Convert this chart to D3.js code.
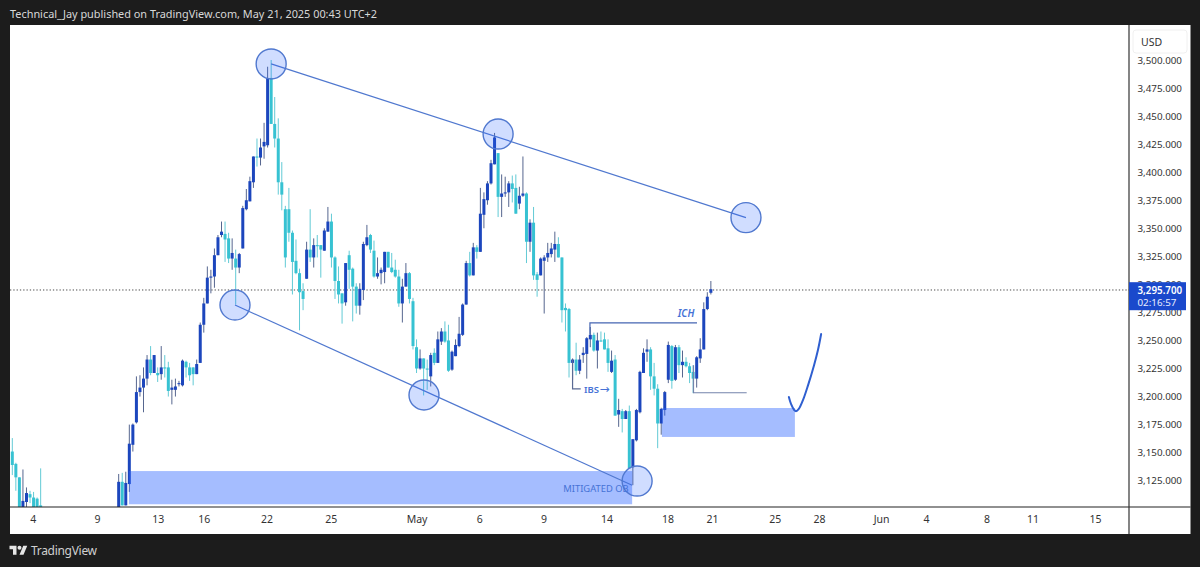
<!DOCTYPE html>
<html><head><meta charset="utf-8">
<script src="https://cdnjs.cloudflare.com/ajax/libs/d3/7.8.5/d3.min.js"></script>
<style>html,body{margin:0;padding:0;background:#1c1c1c;overflow:hidden}svg{display:block}text{font-family:"Noto Sans",sans-serif}</style>
</head><body><svg id="c" width="1200" height="567"></svg>
<script>
// candles before the off-screen stretch, then after it
const earlyBars = 9, hiddenBars = 21;
const opens = [3151,3140,3128,3099,3106,3113,3110,3109,3103,
3099,3124,3103,3122,3157,3177,3204,3208,3216,3233,
3221,3221,3220,3226,3226,3206,3206,3211,3210,3231,
3226,3226,3220,3230,3264,3283,3306,3307,3326,3344,
3345,3341,3323,3323,3315,3332,3367,3374,3391,3414,
3413,3423,3424,3484,3443,3430,3391,3367,3367,3346,
3321,3310,3294,3305,3331,3324,3335,3335,3330,3347,
3356,3324,3303,3292,3284,3326,3314,3298,3281,3295,
3335,3344,3330,3307,3310,3311,3329,3315,3313,3307,
3283,3298,3310,3285,3244,3225,3234,3225,3218,3239,
3230,3249,3258,3250,3224,3236,3245,3255,3282,3319,
3308,3333,3329,3362,3375,3390,3407,3417,3378,3381,
3382,3390,3386,3372,3379,3381,3338,3355,3309,3308,
3321,3324,3327,3331,3336,3324,3279,3278,3230,3233,
3223,3237,3238,3251,3255,3241,3250,3251,3243,3222,
3233,3184,3187,3180,3187,3137,3161,3186,3221,3240,
3242,3218,3207,3176,3188,3215,3245,3215,3244,3228,
3231,3227,3222,3216,3234,3242,3278,3292.5];
const highs = [3163,3141,3128,3135,3119,3116,3115,3110,3136,
3131,3132,3133,3175,3176,3218,3219,3226,3237,3245,
3237,3226,3245,3237,3231,3215,3216,3214,3233,3232,
3230,3226,3233,3266,3288,3316,3313,3332,3344,3356,
3356,3346,3341,3331,3328,3370,3385,3396,3414,3430,
3430,3444,3494,3500,3467,3448,3409,3370,3386,3348,
3340,3314,3301,3338,3367,3341,3344,3335,3350,3369,
3363,3325,3316,3292,3319,3330,3315,3301,3301,3338,
3353,3345,3339,3324,3315,3329,3329,3328,3322,3313,
3305,3319,3311,3288,3251,3242,3234,3233,3239,3243,
3258,3261,3267,3264,3241,3251,3271,3283,3321,3329,
3337,3335,3386,3382,3392,3411,3435,3417,3398,3396,
3392,3397,3398,3387,3414,3382,3358,3369,3311,3324,
3326,3337,3337,3347,3342,3324,3283,3279,3234,3248,
3237,3244,3253,3262,3257,3257,3258,3257,3251,3241,
3237,3198,3189,3188,3192,3162,3189,3223,3243,3251,
3244,3230,3211,3190,3205,3249,3246,3246,3246,3241,
3235,3230,3228,3236,3252,3284,3293,3303];
const lows = [3130,3116,3101,3099,3099,3105,3099,3099,3099,
3099,3103,3103,3115,3151,3176,3200,3186,3210,3219,
3221,3213,3215,3217,3200,3193,3200,3209,3209,3217,
3214,3210,3220,3230,3257,3283,3292,3297,3326,3342,
3320,3319,3313,3282,3310,3332,3366,3374,3386,3405,
3406,3412,3422,3443,3422,3380,3366,3315,3338,3291,
3309,3259,3277,3305,3320,3315,3324,3306,3330,3347,
3315,3287,3283,3265,3281,3296,3267,3274,3273,3286,
3334,3328,3306,3305,3300,3301,3315,3310,3306,3280,
3266,3298,3283,3242,3221,3224,3201,3206,3209,3228,
3230,3246,3248,3222,3223,3236,3244,3254,3282,3307,
3308,3323,3329,3350,3371,3389,3407,3360,3360,3378,
3369,3373,3363,3367,3378,3319,3329,3304,3289,3308,
3274,3320,3324,3320,3324,3266,3258,3217,3215,3219,
3220,3230,3216,3244,3240,3225,3249,3242,3222,3221,
3183,3173,3168,3180,3136,3121,3160,3185,3221,3231,
3206,3201,3154,3166,3183,3212,3207,3214,3221,3217,
3226,3212,3203,3208,3230,3242,3277,3291];
const closes = [3139,3128,3101,3107,3114,3110,3099,3099,3099,
3124,3103,3123,3158,3175,3204,3208,3216,3233,3221,
3237,3219,3226,3225,3205,3208,3209,3212,3232,3226,
3219,3220,3229,3264,3283,3306,3307,3326,3342,3347,
3340,3323,3328,3315,3327,3368,3375,3392,3414,3413,
3422,3427,3484,3443,3430,3391,3380,3324,3346,3320,
3310,3293,3287,3331,3324,3335,3334,3331,3348,3356,
3324,3303,3291,3283,3319,3313,3298,3281,3296,3336,
3342,3331,3307,3310,3313,3329,3315,3311,3307,3283,
3298,3310,3287,3245,3225,3234,3225,3224,3237,3230,
3251,3258,3249,3223,3240,3246,3256,3282,3319,3308,
3333,3329,3363,3376,3390,3408,3431,3378,3381,3382,
3390,3385,3363,3379,3381,3338,3355,3308,3304,3323,
3324,3328,3332,3336,3324,3277,3277,3230,3233,3223,
3233,3239,3252,3255,3241,3250,3249,3242,3230,3232,
3183,3188,3180,3187,3136,3162,3188,3222,3239,3242,
3218,3207,3176,3189,3204,3246,3214,3244,3228,3231,
3227,3221,3216,3235,3242,3278,3289,3295.7];
const priceTicks = [3500,3475,3450,3425,3400,3375,3350,3325,3300,3275,3250,3225,3200,3175,3150,3125];
const timeTicks = [5.8,23.9,41,54,71.7,89.8,114,131.7,149.8,167.6,184.8,197.3,215,227.5,245,257.7,274.7,287.7,305.3];
const timeLabels = ["4","9","13","16","22","25","May","6","9","14","18","21","25","28","Jun","4","8","11","15"];
const lastPrice = 3295.7;
const countdown = "02:16:57";
// annotations, as [bar slot, price]
const circles = [[73,3496.5],[137,3434],[206.9,3359.5],[62.8,3281.6],[116.1,3201.4],[176.2,3124.7]];
const trendLines = [[[73,3496.5],[206.9,3359.5]],[[62.8,3281.6],[174.8,3121]]];
const zones = [[32.9,174.8,3133.6,3104],[183.2,220.7,3189.8,3164]];
const ichLine = [[162.9,3255],[162.9,3265.6],[193.1,3265.6]];
const ibsLine = [[158,3233],[158,3206.8],[160.3,3206.8]];
const lowLine = [[192.1,3228],[192.1,3203.4],[207.1,3203.4]];
const projection = [[219,3199.6],[219.6,3193.4],[220.5,3188],[221,3187],[221.8,3189],[223,3197],[224.4,3210],[226.1,3228],[227.2,3241.5],[228.1,3255.8]];

const svg = d3.select("#c");
const PL=10,PR=1129,PT=25,PB=507,AR=1190.5,AB=534;
const x = d3.scaleLinear().domain([0,305]).range([12.3,12.3+305*3.546]);
const y = d3.scaleLinear().domain([3500,3125]).range([60,480.7]);
const UP="#1c46bd", DOWN="#37c2d2", UPW="#56668f", DOWNW="#62cad5", BLUE="#4672d6";

svg.append("rect").attr("width",1200).attr("height",567).attr("fill","#1c1c1c");
svg.append("rect").attr("x",PL).attr("y",PT).attr("width",AR-PL).attr("height",AB-PT).attr("fill","#fff");
svg.append("clipPath").attr("id","cp").append("rect").attr("x",PL).attr("y",PT).attr("width",PR-PL).attr("height",PB-PT);
const plot = svg.append("g").attr("clip-path","url(#cp)");

plot.append("line").attr("x1",PL).attr("x2",PR).attr("y1",y(lastPrice)+.8).attr("y2",y(lastPrice)+.8)
  .attr("stroke","#4a4a4a").attr("stroke-width",1).attr("stroke-dasharray","1.3,2");

const idx = d3.range(opens.length);
const slot = i => i<earlyBars ? i : i+hiddenBars;
const candle = plot.append("g").selectAll("g").data(idx).join("g");
candle.append("line").attr("x1",i=>x(slot(i))).attr("x2",i=>x(slot(i)))
  .attr("y1",i=>y(highs[i])).attr("y2",i=>y(lows[i]))
  .attr("stroke",i=>closes[i]>=opens[i]?UPW:DOWNW).attr("stroke-width",1);
candle.append("rect").attr("x",i=>x(slot(i))-1.5).attr("width",3)
  .attr("y",i=>y(Math.max(opens[i],closes[i])))
  .attr("height",i=>Math.max(1,Math.abs(y(opens[i])-y(closes[i]))))
  .attr("fill",i=>closes[i]>=opens[i]?UP:DOWN);

plot.append("g").selectAll("rect").data(zones).join("rect")
  .attr("x",d=>x(d[0])).attr("width",d=>x(d[1])-x(d[0])).attr("y",d=>y(d[2])).attr("height",d=>y(d[3])-y(d[2]))
  .attr("fill","#2962ff").attr("fill-opacity",.42);

const ln = d3.line().x(d=>x(d[0])).y(d=>y(d[1]));
plot.append("g").selectAll("path").data(trendLines).join("path").attr("d",ln)
  .attr("fill","none").attr("stroke","#5078cf").attr("stroke-width",1.2);
plot.append("g").selectAll("circle").data(circles).join("circle")
  .attr("cx",d=>x(d[0])).attr("cy",d=>y(d[1])).attr("r",15)
  .attr("fill","#2962ff").attr("fill-opacity",.22).attr("stroke","#5078cf").attr("stroke-width",1.4);
[[ichLine,"#4565b2"],[ibsLine,"#5a6a94"],[lowLine,"#7484ac"]].forEach(([d,c])=>
  plot.append("path").attr("d",ln(d)).attr("fill","none").attr("stroke",c).attr("stroke-width",1.2));
plot.append("path").attr("d",d3.line().x(d=>x(d[0])).y(d=>y(d[1])).curve(d3.curveCatmullRom)(projection))
  .attr("fill","none").attr("stroke","#2f5fd0").attr("stroke-width",2).attr("stroke-linecap","round");

const label=(t,px,py,opt={})=>plot.append("text").attr("x",px).attr("y",py).attr("text-anchor",opt.a||"middle")
  .attr("font-size",opt.s||9.5).attr("font-style",opt.i?"italic":"normal").attr("font-weight",opt.w||500).attr("fill",BLUE).text(t);
label("ICH",x(190),y(3270.5),{i:true,w:600,s:10});
label("IBS",x(161.2),y(3203.5),{w:600,a:"start"});
label("→",x(165.6),y(3203.5),{s:12,a:"start"}).style("font-family","'DejaVu Sans'");
label("MITIGATED OB",x(164.6),y(3114.5),{s:9.4,w:400});

// frame lines
svg.append("line").attr("x1",PL).attr("x2",AR).attr("y1",PB).attr("y2",PB).attr("stroke","#222").attr("stroke-width",1.2);
svg.append("line").attr("x1",PR).attr("x2",PR).attr("y1",PT).attr("y2",AB).attr("stroke","#333").attr("stroke-width",1.2);

// price axis
const fmt = d3.format(",.3f");
const ya = svg.append("g").attr("transform",`translate(${PR+8.5},0)`)
  .call(d3.axisRight(y).tickValues(priceTicks).tickSize(0).tickPadding(0).tickFormat(fmt));
ya.select(".domain").remove();
ya.selectAll("text").attr("font-size",9.8).attr("fill","#333").style("font-family",'"Noto Sans",sans-serif');

// time axis
const xa = svg.append("g").attr("transform",`translate(0,${PB})`)
  .call(d3.axisBottom(x).tickValues(timeTicks).tickSize(0).tickPadding(9).tickFormat((d,i)=>timeLabels[i]));
xa.select(".domain").remove();
xa.selectAll("text").attr("font-size",10.5).attr("fill","#333").style("font-family",'"Noto Sans",sans-serif');

// USD box and price tag
svg.append("rect").attr("x",1133).attr("y",30).attr("width",54).attr("height",23).attr("rx",3).attr("fill","#fff").attr("stroke","#f0f0f0");
svg.append("text").attr("x",1141).attr("y",45.5).attr("font-size",10.5).attr("fill","#333").text("USD");
svg.append("rect").attr("x",PR).attr("y",y(lastPrice)-7).attr("width",57).attr("height",28).attr("fill","#1a49cc");
svg.append("text").attr("x",1137.5).attr("y",y(lastPrice)+5).attr("font-size",9.8).attr("font-weight",600).attr("fill","#fff").text(fmt(lastPrice));
svg.append("text").attr("x",1137.5).attr("y",y(lastPrice)+17).attr("font-size",9.8).attr("fill","#e8eeff").text(countdown);

// header and footer
svg.append("text").attr("x",10).attr("y",17.5).attr("font-size",10.9).attr("fill","#d8d8d8")
  .text("Technical_Jay published on TradingView.com, May 21, 2025 00:43 UTC+2");
svg.append("g").attr("transform","translate(9.5,543.7) scale(.5)").attr("fill","#e6e6e6").call(g=>{
  g.append("path").attr("d","M14 22H7V11H0V4h14v18zM28 22h-8l7.5-18h8L28 22z");
  g.append("circle").attr("cx",20).attr("cy",8).attr("r",4);
});
svg.append("text").attr("x",31).attr("y",555).attr("font-size",12).attr("letter-spacing",-.3).attr("fill","#d0d0d0").text("TradingView");
</script></body></html>
